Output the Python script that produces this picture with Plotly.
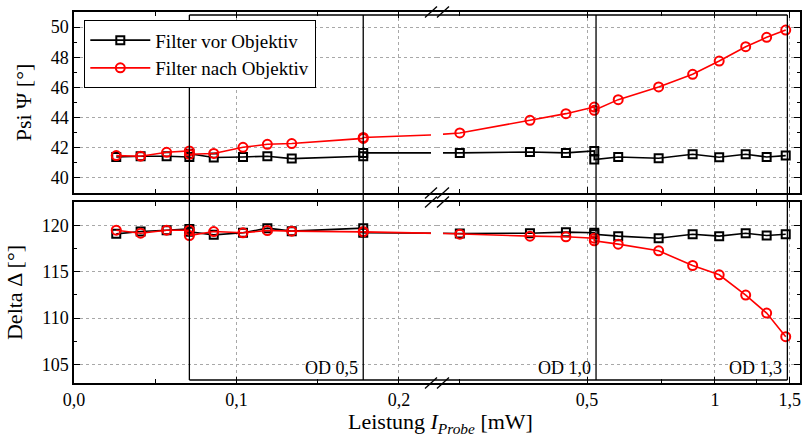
import numpy as np
import plotly.graph_objects as go
from plotly.subplots import make_subplots

# ---------------- data ----------------
leistung = [0.026, 0.041, 0.057, 0.071, 0.071, 0.086, 0.104, 0.119, 0.134, 0.178, 0.178,
            0.251, 0.367, 0.446, 0.52, 0.52, 0.592, 0.737, 0.886, 1.023, 1.181, 1.323, 1.467]
psi_vor = [41.39, 41.44, 41.44, 41.39, 41.60, 41.35, 41.39, 41.44, 41.28, 41.44, 41.66,
           41.66, 41.72, 41.66, 41.79, 41.22, 41.39, 41.30, 41.57, 41.37, 41.57, 41.39, 41.48]
psi_nach = [41.48, 41.44, 41.70, 41.79, 41.57, 41.62, 42.03, 42.23, 42.28, 42.62, 42.68,
            42.98, 43.82, 44.26, 44.70, 44.48, 45.19, 46.03, 46.87, 47.75, 48.70, 49.32, 49.80]
delta_vor = [119.07, 119.32, 119.46, 119.60, 119.30, 118.96, 119.18, 119.68, 119.36, 119.68, 119.18,
             119.10, 119.14, 119.25, 119.18, 119.03, 118.82, 118.60, 119.03, 118.82, 119.14, 118.89, 119.03]
delta_nach = [119.46, 119.14, 119.46, 119.46, 118.89, 119.32, 119.18, 119.43, 119.36, 119.32, 119.28,
              119.03, 118.82, 118.75, 118.60, 118.32, 117.96, 117.24, 115.66, 114.66, 112.47, 110.53, 107.99]

series_names = ["Filter vor Objektiv", "Filter nach Objektiv"]
od_bounds = [0.071, 0.178, 0.525, 1.48]
od_labels = ["OD 0,5", "OD 1,0", "OD 1,3"]

x_left_ticks = [0.0, 0.1, 0.2]
x_right_ticks = [0.5, 1.0, 1.5]
x_right_ticktext = ["0,5", "1", "1,5"]
x_right_minor = [0.25, 0.75, 1.25]

# ---------------- layout constants ----------------
FONT = "Liberation Serif"
W, H = 802, 445
ML, MR, MT, MB = 74, 2, 12, 62
PW, PH = W - ML - MR, H - MT - MB
split = 0.5
left_range = [0, 0.2234]
right_range = [-0.654, 0.2]
break_lo, break_hi = left_range[1], 10 ** right_range[0]


def px(xp):
    return (xp - ML) / PW


def py(yp):
    return (H - MB - yp) / PH


top_dom = [py(193), 1.0]
bot_dom = [0.0, py(202)]

fig = make_subplots(rows=2, cols=2, horizontal_spacing=0, vertical_spacing=0.02)

styles = [
    dict(color="black", symbol="square-open", size=8),
    dict(color="red", symbol="circle-open", size=9),
]
panels = [(1, [psi_vor, psi_nach]), (2, [delta_vor, delta_nach])]
xs = np.array(leistung)
for row, ys in panels:
    for si, yv in enumerate(ys):
        yv = np.array(yv)
        st = styles[si]
        # left (linear) part, bridged to first point beyond the break
        li = np.where(xs <= break_lo)[0]
        li = np.append(li, li[-1] + 1)
        ri = np.where(xs >= break_hi)[0]
        ri = np.insert(ri, 0, ri[0] - 1)
        for col, idx in [(1, li), (2, ri)]:
            fig.add_trace(go.Scatter(
                x=xs[idx], y=yv[idx], mode="lines+markers",
                name=series_names[si],
                legendgroup=series_names[si],
                showlegend=(row == 1 and col == 1),
                line=dict(color=st["color"], width=1.6),
                marker=dict(symbol=st["symbol"], size=st["size"], color=st["color"],
                            line=dict(width=2, color=st["color"])),
            ), row=row, col=col)

axis_common = dict(showline=True, linecolor="black", linewidth=1.5,
                   ticks="inside", tickcolor="black", tickwidth=1.2, ticklen=6,
                   tickfont=dict(family=FONT, size=18, color="black"),
                   gridcolor="#a8a8a8", griddash="dot", gridwidth=1, zeroline=False)

xl = dict(axis_common, range=left_range, tickmode="array", tickvals=x_left_ticks,
          tickformat=".1f", mirror="allticks", domain=[0, split],
          minor=dict(tickmode="linear", tick0=0, dtick=0.05, ticks="inside", ticklen=4,
                     tickcolor="black", showgrid=False))
xr = dict(axis_common, type="log", range=right_range, tickmode="array",
          tickvals=x_right_ticks, ticktext=x_right_ticktext, mirror="allticks",
          domain=[split, 1],
          minor=dict(tickmode="array", tickvals=x_right_minor, ticks="inside", ticklen=4,
                     tickcolor="black", showgrid=False))

fig.update_layout(
    xaxis=dict(xl, showticklabels=False, anchor="y"),
    xaxis2=dict(xr, showticklabels=False, anchor="y2"),
    xaxis3=dict(xl, showticklabels=True, anchor="y3"),
    xaxis4=dict(xr, showticklabels=True, anchor="y4"),
)

yt = dict(range=[39, 51], tickmode="linear", tick0=40, dtick=2, domain=top_dom,
          minor=dict(tickmode="linear", tick0=39, dtick=1, ticks="inside", ticklen=3,
                     tickcolor="black", showgrid=False))
yb = dict(range=[103, 122.5], tickmode="linear", tick0=105, dtick=5, domain=bot_dom,
          minor=dict(tickmode="linear", tick0=102.5, dtick=2.5, ticks="inside", ticklen=3,
                     tickcolor="black", showgrid=False))
title_font = dict(family=FONT, size=22, color="black")
fig.update_layout(
    yaxis=dict(axis_common, **yt, anchor="x", side="left",
               title=dict(text="Psi Ψ [°]", font=title_font, standoff=13)),
    yaxis2=dict(axis_common, **yt, anchor="x2", side="right", showticklabels=False),
    yaxis3=dict(axis_common, **yb, anchor="x3", side="left",
                title=dict(text="Delta Δ [°]", font=title_font, standoff=13)),
    yaxis4=dict(axis_common, **yb, anchor="x4", side="right", showticklabels=False),
)

BOXLINE = dict(color="black", width=1.3)
shapes = []
# white gaps in the data lines at the axis break
for yref, (y0, y1) in [("y", (41.45, 41.9)), ("y", (42.62, 43.15)), ("y3", (118.7, 119.6))]:
    shapes.append(dict(type="rect", xref="paper", yref=yref, x0=px(431), x1=px(443),
                       y0=y0, y1=y1, fillcolor="white", line=dict(width=0), layer="above"))
# OD region boxes (span both panels)
box_y0, box_y1 = py(380), py(15)
for b, xref in zip(od_bounds, ["x", "x", "x2", "x2"]):
    shapes.append(dict(type="line", xref=xref, yref="paper", x0=b, x1=b, y0=box_y0, y1=box_y1,
                       line=BOXLINE, layer="above"))
for yb_ in [box_y0, box_y1]:
    shapes.append(dict(type="line", xref="x", yref="paper", x0=od_bounds[0], x1=break_lo,
                       y0=yb_, y1=yb_, line=BOXLINE, layer="above"))
    shapes.append(dict(type="line", xref="x2", yref="paper", x0=break_hi, x1=od_bounds[-1],
                       y0=yb_, y1=yb_, line=BOXLINE, layer="above"))
# break marks //
for yl in [12, 193, 202, 383]:
    for cx in [431, 443]:
        shapes.append(dict(type="line", xref="paper", yref="paper",
                           x0=px(cx - 6), y0=py(yl + 5.5), x1=px(cx + 6), y1=py(yl - 5.5),
                           line=BOXLINE, layer="above"))
fig.update_layout(shapes=shapes)

annots = []
for i, lab in enumerate(od_labels):
    b = od_bounds[i + 1]
    if b < break_lo:
        xref, xv = "x", b
    else:
        xref, xv = "x2", np.log10(b)
    annots.append(dict(text=lab, xref=xref, yref="y3", x=xv, y=104.6, xanchor="right",
                       yanchor="middle", xshift=-3, showarrow=False,
                       font=dict(family=FONT, size=18, color="black")))
annots.append(dict(text="Leistung <i>I</i><sub><i>Probe</i></sub> [mW]", xref="paper",
                   yref="paper", x=px(440), y=py(423), xanchor="center", yanchor="middle",
                   showarrow=False, font=title_font))
fig.update_layout(annotations=annots)

fig.update_layout(
    width=W, height=H, margin=dict(l=ML, r=MR, t=MT, b=MB),
    paper_bgcolor="white", plot_bgcolor="white",
    separators=",.",
    font=dict(family=FONT, size=18, color="black"),
    legend=dict(x=px(84), y=py(20), xanchor="left", yanchor="top",
                bgcolor="white", bordercolor="black", borderwidth=1.3,
                font=dict(family=FONT, size=19, color="black"),
                tracegroupgap=0, itemwidth=60),
)

fig.write_html("out.html")
